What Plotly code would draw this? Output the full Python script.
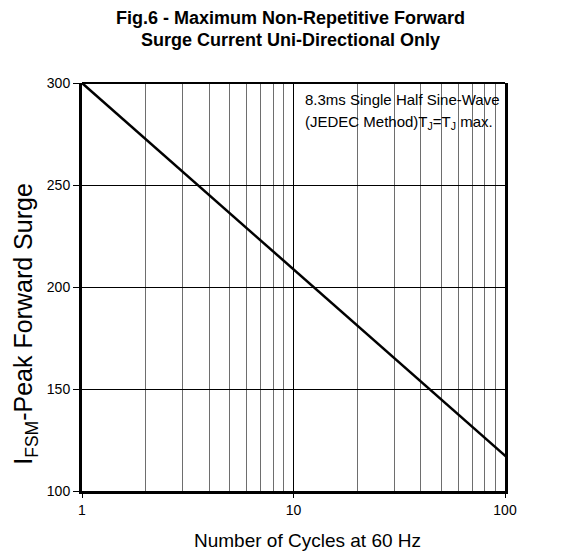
import plotly.graph_objects as go

# Data
cycles = [1, 10, 100, 106]
surge = [300, 208.5, 117, 115]

x_major = [1, 10, 100]
x_major_labels = ["1", "10", "100"]
x_minor = [2, 3, 4, 5, 6, 7, 8, 9, 20, 30, 40, 50, 60, 70, 80, 90]
y_ticks = [100, 150, 200, 250, 300]

FONT = "Liberation Sans, Arial, sans-serif"

fig = go.Figure()
fig.add_trace(go.Scatter(x=cycles, y=surge, mode="lines",
                         line=dict(color="black", width=2.5), showlegend=False,
                         hoverinfo="skip"))

fig.update_layout(
    width=576, height=558,
    margin=dict(l=82, r=71, t=83, b=67),
    paper_bgcolor="white", plot_bgcolor="white",
    font=dict(family=FONT, color="black", size=14),
    xaxis=dict(type="log", range=[0, 2], tickvals=x_major, ticktext=x_major_labels,
               showgrid=True, gridcolor="black", gridwidth=1,
               minor=dict(tickvals=x_minor, showgrid=True, gridcolor="#6e6e6e",
                          gridwidth=1, ticks=""),
               ticks="outside", ticklen=4, tickcolor="black", tickwidth=1,
               showline=True, linecolor="black", linewidth=3, mirror=False,
               zeroline=False, tickfont=dict(size=14)),
    yaxis=dict(range=[100, 300], tickvals=y_ticks,
               showgrid=True, gridcolor="black", gridwidth=1,
               ticks="outside", ticklen=6, tickcolor="black", tickwidth=1,
               showline=True, linecolor="black", linewidth=3, mirror=True,
               zeroline=False, tickfont=dict(size=14)),
)

# top border (thinner)
fig.add_shape(type="line", xref="paper", yref="paper", x0=0, x1=1, y0=1, y1=1,
              line=dict(color="black", width=2), layer="above")

# white box behind the note
fig.add_shape(type="rect", xref="paper", yref="y", x0=0.508, x1=0.995, y0=267, y1=295.5,
              fillcolor="white", line=dict(width=0), layer="between")

fig.add_annotation(xref="paper", yref="y", x=0.522, y=291.7, xanchor="left", yanchor="middle",
                   text="8.3ms Single Half Sine-Wave", showarrow=False, font=dict(size=15))
fig.add_annotation(xref="paper", yref="y", x=0.522, y=280.4, xanchor="left", yanchor="middle",
                   text="(JEDEC Method)T<sub>J</sub>=T<sub>J</sub> max.", showarrow=False,
                   font=dict(size=15))

# title
fig.add_annotation(xref="paper", yref="paper", x=0.492, y=1, yshift=65, xanchor="center",
                   yanchor="middle", text="<b>Fig.6 - Maximum Non-Repetitive Forward</b>",
                   showarrow=False, font=dict(size=18))
fig.add_annotation(xref="paper", yref="paper", x=0.492, y=1, yshift=43, xanchor="center",
                   yanchor="middle", text="<b>Surge Current Uni-Directional Only</b>",
                   showarrow=False, font=dict(size=18))

# axis titles
fig.add_annotation(xref="paper", yref="paper", x=0, y=0, yshift=-49, xshift=225,
                   xanchor="center", yanchor="middle", text="Number of Cycles at 60 Hz",
                   showarrow=False, font=dict(size=19))
fig.add_annotation(xref="paper", yref="paper", x=0, xshift=-57, y=0.41, xanchor="center",
                   yanchor="middle", textangle=-90,
                   text="I<sub>FSM</sub>-Peak Forward Surge", showarrow=False,
                   font=dict(size=25))

fig.write_html("out.html", config={"displayModeBar": False},
               post_script="document.body.style.margin='0';")
